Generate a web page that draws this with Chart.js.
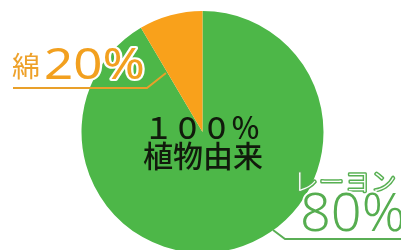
<!DOCTYPE html>
<html><head><meta charset="utf-8">
<script src="https://cdn.jsdelivr.net/npm/chart.js@4"></script>
<style>
html,body{margin:0;padding:0;background:#fff;overflow:hidden;width:401px;height:250px}
#wrap{position:relative;width:401px;height:250px;overflow:hidden}
</style></head>
<body><div id="wrap"><canvas id="c" width="401" height="264"></canvas></div>
<script>
const categories = ["レーヨン", "綿"];
const values = [91.5, 8.5];
const labelPercents = ["80%", "20%"];
const centerLines = ["１００％", "植物由来"];
const colors = ["#4db748", "#f9a11b"];

function outlined(ctx, text, x, y, font, fill, stroke, lw, sx) {
  ctx.save();
  ctx.translate(x, y);
  ctx.scale(sx || 1, 1);
  ctx.font = font;
  ctx.lineJoin = 'round';
  ctx.lineWidth = lw; ctx.strokeStyle = stroke;
  ctx.strokeText(text, 0, 0);
  ctx.fillStyle = fill;
  ctx.fillText(text, 0, 0);
  ctx.restore();
}

const labelPlugin = {
  id: 'labels',
  afterDraw(chart) {
    const ctx = chart.ctx;
    ctx.save();
    ctx.textAlign = 'center';
    ctx.textBaseline = 'alphabetic';
    ctx.fillStyle = '#111a0c';
    ctx.font = '500 29px "Noto Sans CJK JP"';
    ctx.fillText(centerLines[0], 202, 139);
    ctx.font = '500 30px "Noto Sans CJK JP"';
    ctx.fillText(centerLines[1], 203, 167);

    ctx.strokeStyle = '#e9a02a';
    ctx.lineWidth = 2;
    ctx.beginPath();
    ctx.moveTo(13, 88); ctx.lineTo(147, 88); ctx.lineTo(166, 73);
    ctx.stroke();
    ctx.textAlign = 'left';
    outlined(ctx, categories[1], 12, 77, '400 28px "Noto Sans CJK JP"', '#eea12a', '#fff', 3);
    outlined(ctx, labelPercents[1], 44, 79, '400 44px "Noto Sans"', '#f2a01f', '#fff', 4, 1.16);

    ctx.strokeStyle = '#5aae55';
    ctx.lineWidth = 2;
    ctx.beginPath();
    ctx.moveTo(273, 230); ctx.lineTo(285, 239); ctx.lineTo(401, 239);
    ctx.stroke();
    ctx.save();
    ctx.letterSpacing = '1px';
    outlined(ctx, categories[0], 293, 191, '300 25px "Noto Sans CJK JP"', '#ffffff', '#58b053', 3);
    ctx.restore();
    outlined(ctx, labelPercents[0], 300, 231, '300 54px "Noto Sans"', '#56ad50', '#fff', 4);
    ctx.restore();
  }
};

new Chart(document.getElementById('c'), {
  type: 'pie',
  data: {
    labels: categories,
    datasets: [{ data: values, backgroundColor: colors, borderWidth: 0 }]
  },
  options: {
    responsive: false,
    animation: false,
    layout: { padding: { left: 4, right: 0, top: 11, bottom: 11 } },
    plugins: { legend: { display: false }, tooltip: { enabled: false } }
  },
  plugins: [labelPlugin]
});
</script></body></html>
